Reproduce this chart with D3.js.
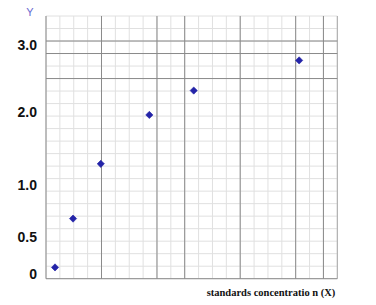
<!DOCTYPE html>
<html>
<head>
<meta charset="utf-8">
<script src="https://cdn.jsdelivr.net/npm/d3@7"></script>
<style>
  body { margin: 0; background: #fff; }
  svg { display: block; }
</style>
</head>
<body>
<div id="chart"></div>
<script>
// standards readings, x in grid units (no x tick labels on the paper)
const concentration = [0.65, 1.95, 3.95, 7.45, 10.65, 18.25];
const absorbance = [0.09, 0.68, 1.29, 1.96, 2.32, 2.77];
const yTicks = [0, 0.5, 1, 2, 3];
// graph paper: 21 x 21 cells, some lines printed darker
const gridCells = d3.range(0, 22);
const darkCols = [0, 4, 8, 10, 14, 18, 20, 21];
const darkRows = [0, 16, 18, 19];

const width = 376, height = 305;
const plotLeft = 46, plotRight = 337.3, plotTop = 16, plotBottom = 278.7;

const svg = d3.select("#chart").append("svg")
  .attr("width", width)
  .attr("height", height);

const x = d3.scaleLinear().domain([0, 21]).range([plotLeft, plotRight]);
const gy = d3.scaleLinear().domain([0, 21]).range([plotBottom, plotTop]);
// the printed labels are not evenly spaced, so the y scale is piecewise
const y = d3.scaleLinear().domain(yTicks).range([274, 237.5, 185, 112, 45]);

// minor grid
svg.append("g").selectAll("line")
  .data(gridCells)
  .enter().append("line")
  .attr("x1", d => x(d)).attr("x2", d => x(d))
  .attr("y1", plotTop).attr("y2", plotBottom)
  .attr("stroke", "#e0e0e0").attr("stroke-width", 1);

svg.append("g").selectAll("line")
  .data(gridCells)
  .enter().append("line")
  .attr("x1", plotLeft).attr("x2", plotRight)
  .attr("y1", d => gy(d)).attr("y2", d => gy(d))
  .attr("stroke", "#e0e0e0").attr("stroke-width", 1);

// darker lines
svg.append("g").selectAll("line")
  .data(darkCols)
  .enter().append("line")
  .attr("x1", d => x(d)).attr("x2", d => x(d))
  .attr("y1", plotTop).attr("y2", plotBottom)
  .attr("stroke", d => d === 21 ? "#a8a8a8" : "#8a8a8a").attr("stroke-width", 1);

svg.append("g").selectAll("line")
  .data(darkRows)
  .enter().append("line")
  .attr("x1", plotLeft).attr("x2", plotRight)
  .attr("y1", d => gy(d)).attr("y2", d => gy(d))
  .attr("stroke", "#8a8a8a").attr("stroke-width", 1);

// y axis labels
const yAxis = svg.append("g")
  .attr("transform", `translate(${plotLeft},0)`)
  .call(d3.axisLeft(y).tickValues(yTicks).tickSize(0).tickPadding(9)
    .tickFormat(d => d === 0 ? "0" : d3.format(".1f")(d)));
yAxis.select(".domain").remove();
yAxis.selectAll("text")
  .attr("font-family", "Liberation Sans, Arial, sans-serif")
  .attr("font-size", "14px")
  .attr("font-weight", "bold")
  .attr("fill", "#111");

svg.append("text")
  .attr("x", 30).attr("y", 16)
  .attr("text-anchor", "middle")
  .attr("font-family", "Liberation Sans, Arial, sans-serif")
  .attr("font-size", "11px")
  .attr("fill", "#6a6ad0")
  .text("Y");

svg.append("text")
  .attr("x", 271).attr("y", 296)
  .attr("text-anchor", "middle")
  .attr("font-family", "Liberation Serif, Times New Roman, serif")
  .attr("font-size", "10.5px")
  .attr("font-weight", "bold")
  .attr("fill", "#111")
  .text("standards concentratio n (X)");

// points, drawn as squares turned 45 degrees
svg.append("g").selectAll("path")
  .data(concentration)
  .enter().append("path")
  .attr("transform", (d, i) => `translate(${x(d)},${y(absorbance[i])}) rotate(45)`)
  .attr("d", d3.symbol().type(d3.symbolSquare).size(26))
  .attr("fill", "#2424a8")
  .attr("stroke", "#2424a8")
  .attr("stroke-width", 0.6)
  .attr("stroke-linejoin", "round");
</script>
</body>
</html>
